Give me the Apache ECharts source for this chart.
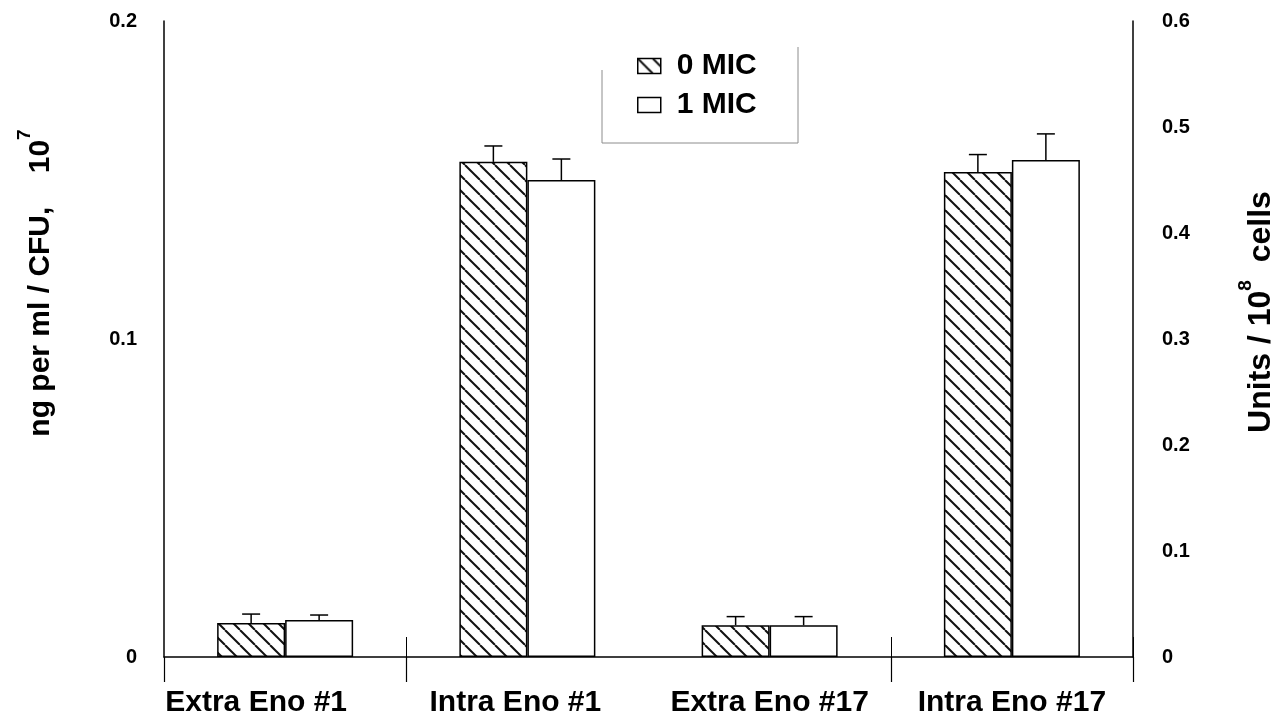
<!DOCTYPE html>
<html>
<head>
<meta charset="utf-8">
<script src="https://cdn.jsdelivr.net/npm/echarts@6/dist/echarts.min.js"></script>
<style>
  html, body { margin: 0; padding: 0; background: #fff; }
  #chart { width: 1280px; height: 728px; }
</style>
</head>
<body>
<div id="chart"></div>
<script>
// Enolase levels, extracellular vs intracellular, without and with 1 MIC
const categories = ['Extra Eno #1', 'Intra Eno #1', 'Extra Eno #17', 'Intra Eno #17'];
const seriesNames = ['0 MIC', '1 MIC'];
const mic0 = [0.0107, 0.1557, 0.0100, 0.1525];
const mic1 = [0.0116, 0.1500, 0.0100, 0.1563];
const mic0Err = [0.0028, 0.0050, 0.0027, 0.0055];
const mic1Err = [0.0016, 0.0066, 0.0027, 0.0082];
const leftAxisRange = [0, 0.2, 0.1];   // min, max, step
const rightAxisRange = [0, 0.6, 0.1];

const FONT = "'Liberation Sans', Arial, sans-serif";
const BAR_W = 68;
const CAP = 9;

// diagonal "\\\\" hatch used for the 0 MIC bars
function hatch(size, lw) {
  const c = document.createElement('canvas');
  c.width = c.height = size;
  const g = c.getContext('2d');
  g.fillStyle = '#fff';
  g.fillRect(0, 0, size, size);
  g.strokeStyle = '#111';
  g.lineWidth = lw;
  for (const k of [-1, 0, 1]) {
    g.beginPath();
    g.moveTo(k * size, 0);
    g.lineTo(k * size + size, size);
    g.stroke();
  }
  return c;
}
const hatchFill = { image: hatch(15, 2), repeat: 'repeat' };

// one-sided error bar drawn above each bar
function errorBars(vals, errs, side) {
  return {
    type: 'custom',
    silent: true,
    z: 5,
    encode: { x: 0, y: 1 },
    data: vals.map((v, i) => [i, v, errs[i]]),
    renderItem(params, api) {
      const i = api.value(0), v = api.value(1), e = api.value(2);
      const base = api.coord([i, v]);
      const top = api.coord([i, v + e]);
      const x = base[0] + side * BAR_W / 2;
      const st = { stroke: '#000', lineWidth: 1.5 };
      return {
        type: 'group',
        children: [
          { type: 'line', shape: { x1: x, y1: base[1], x2: x, y2: top[1] }, style: st },
          { type: 'line', shape: { x1: x - CAP, y1: top[1], x2: x + CAP, y2: top[1] }, style: st }
        ]
      };
    }
  };
}

const catStyle = { fontSize: 30, fontWeight: 'bold', color: '#000', fontFamily: FONT };
const catRich = {
  c0: Object.assign({ padding: [0, 58, 0, 0] }, catStyle),
  c1: Object.assign({ padding: [0, 24, 0, 0] }, catStyle),
  c: catStyle
};

// axis titles with a raised exponent
function nameRich(size) {
  return {
    b: { fontSize: size, fontWeight: 'bold', color: '#000', fontFamily: FONT, lineHeight: 30, verticalAlign: 'bottom' },
    s: { fontSize: 19, fontWeight: 'bold', color: '#000', fontFamily: FONT, lineHeight: 16, verticalAlign: 'top' },
    h: { fontSize: 10, lineHeight: 41, width: 0 }
  };
}

const chart = echarts.init(document.getElementById('chart'), null, { renderer: 'canvas' });

chart.setOption({
  backgroundColor: '#fff',
  animation: false,
  textStyle: { fontFamily: FONT },
  grid: { left: 164, right: 147, top: 21, bottom: 71, outerBoundsMode: 'none', containLabel: false },
  legend: {
    data: seriesNames,
    orient: 'vertical',
    left: 632,
    top: 46,
    itemWidth: 23,
    itemHeight: 15,
    itemGap: 9,
    icon: 'rect',
    itemStyle: { borderColor: '#000', borderWidth: 1.5 },
    textStyle: { fontSize: 30, fontWeight: 'bold', color: '#000', fontFamily: FONT, lineHeight: 30, padding: [0, 0, 0, 11] },
    selectedMode: false
  },
  graphic: [{
    type: 'polyline',
    silent: true,
    shape: { points: [[602, 70], [602, 143], [798, 143], [798, 47]] },
    style: { stroke: '#8c8c8c', lineWidth: 1, fill: null }
  }],
  xAxis: [{
    type: 'category',
    data: categories,
    axisLine: { lineStyle: { color: '#000', width: 1.5 } },
    axisTick: { show: true, length: 25, interval: (i) => i !== 2, lineStyle: { color: '#000', width: 1.2 } },
    axisLabel: {
      margin: 31,
      interval: 0,
      formatter: (v, i) => (i === 0 ? '{c0|' : i === 1 ? '{c1|' : '{c|') + v + '}',
      rich: catRich
    },
    splitLine: { show: false }
  }, {
    type: 'category',
    data: categories,
    position: 'bottom',
    axisLine: { show: false },
    axisLabel: { show: false },
    axisTick: { show: true, inside: true, length: 20, interval: (i) => i === 1 || i === 3, lineStyle: { color: '#000', width: 1 } },
    splitLine: { show: false }
  }],
  yAxis: [{
    type: 'value',
    position: 'left',
    min: leftAxisRange[0], max: leftAxisRange[1], interval: leftAxisRange[2],
    axisLine: { show: true, lineStyle: { color: '#000', width: 1.5 } },
    axisTick: { show: false },
    splitLine: { show: false },
    axisLabel: { margin: 27, fontSize: 20, fontWeight: 'bold', color: '#000', fontFamily: FONT },
    name: '{h|\u200b}{b|ng per ml / CFU,    10}{s|7}',
    nameLocation: 'middle',
    nameRotate: 90,
    nameGap: 108,
    nameTextStyle: { rich: nameRich(30), padding: [0, 0, 0, 112] }
  }, {
    type: 'value',
    position: 'right',
    min: rightAxisRange[0], max: rightAxisRange[1], interval: rightAxisRange[2],
    axisLine: { show: true, lineStyle: { color: '#000', width: 1.5 } },
    axisTick: { show: false },
    splitLine: { show: false },
    axisLabel: { margin: 29, fontSize: 20, fontWeight: 'bold', color: '#000', fontFamily: FONT },
    name: '{h|\u200b}{b|Units / 10}{s|8}{b|  cells}',
    nameLocation: 'middle',
    nameRotate: 90,
    nameGap: 103,
    nameTextStyle: { rich: nameRich(32), padding: [0, 0, 0, 54] }
  }],
  series: [
    {
      name: seriesNames[0], type: 'bar', data: mic0, barWidth: BAR_W, barGap: '0%',
      itemStyle: { color: hatchFill, borderColor: '#000', borderWidth: 1.5 }
    },
    {
      name: seriesNames[1], type: 'bar', data: mic1, barWidth: BAR_W, barGap: '0%',
      itemStyle: { color: '#fff', borderColor: '#000', borderWidth: 1.5 }
    },
    errorBars(mic0, mic0Err, -1),
    errorBars(mic1, mic1Err, 1)
  ]
});
</script>
</body>
</html>
